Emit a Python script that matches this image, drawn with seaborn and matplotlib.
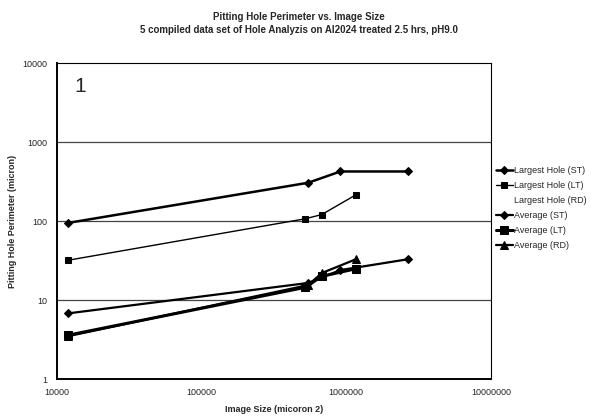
import matplotlib
matplotlib.use('Agg')
import matplotlib.pyplot as plt
import seaborn as sns
import pandas as pd

sns.set_style('white')
plt.rcParams['font.family'] = ['Liberation Sans', 'DejaVu Sans']

# data
lh_st_x = [12000, 546000, 910000, 2690000]
lh_st_y = [95, 306, 425, 425]
lh_lt_x = [12000, 520000, 677000, 1170000]
lh_lt_y = [32, 107, 121, 216]
av_st_x = [12000, 546000, 910000, 2690000]
av_st_y = [6.8, 16.5, 24, 33]
av_lt_x = [12000, 520000, 677000, 1170000]
av_lt_y = [3.6, 14.5, 20, 25]
av_rd_x = [12000, 546000, 677000, 1170000]
av_rd_y = [3.5, 15.5, 22, 33]

fig = plt.figure(figsize=(5.98, 4.18), dpi=100)
ax = fig.add_axes([0.095, 0.093, 0.726, 0.756])

series = [
    ('Largest Hole (ST)', lh_st_x, lh_st_y, 'D', 1.8, 4.5),
    ('Largest Hole (LT)', lh_lt_x, lh_lt_y, 's', 1.0, 4.5),
    ('Average (ST)', av_st_x, av_st_y, 'D', 1.6, 4.5),
    ('Average (LT)', av_lt_x, av_lt_y, 's', 2.2, 5.5),
    ('Average (RD)', av_rd_x, av_rd_y, '^', 1.6, 5.5),
]
for name, xs, ys, mk, lw, ms in series:
    df = pd.DataFrame({'x': xs, 'y': ys})
    sns.lineplot(data=df, x='x', y='y', ax=ax, color='black', marker=mk,
                 markersize=ms, linewidth=lw, label=name, markeredgecolor='black')

# empty series kept for the legend
ax.plot([], [], color='none', label='Largest Hole (RD)')

ax.set_xscale('log')
ax.set_yscale('log')
ax.set_xlim(10000, 10000000)
ax.set_ylim(1, 10000)
ax.set_xticks([10000, 100000, 1000000, 10000000])
ax.set_xticklabels(['10000', '100000', '1000000', '10000000'])
ax.set_yticks([1, 10, 100, 1000, 10000])
ax.set_yticklabels(['1', '10', '100', '1000', '10000'])
ax.minorticks_off()
ax.tick_params(axis='both', labelsize=6.5, length=3, direction='out', width=0.8)
for s in ax.spines.values():
    s.set_color('black')
    s.set_linewidth(0.8)
ax.spines['left'].set_linewidth(1.4)
ax.spines['bottom'].set_linewidth(1.4)
for v in [10, 100, 1000]:
    ax.axhline(v, color='#444444', linewidth=0.9, zorder=0)

ax.set_xlabel('Image Size (micoron 2)', fontsize=6.5, fontweight='bold', labelpad=6)
ax.set_ylabel('Pitting Hole Perimeter (micron)', fontsize=6.5, fontweight='bold', labelpad=4)
fig.text(0.5, 0.952, 'Pitting Hole Perimeter vs. Image Size', ha='center',
         fontsize=7, fontweight='bold')
fig.text(0.5, 0.92, '5 compiled data set of Hole Analyzis on Al2024 treated 2.5 hrs, pH9.0',
         ha='center', fontsize=7, fontweight='bold')
ax.text(0.04, 0.955, '1', transform=ax.transAxes, fontsize=15, va='top')

handles, labels = ax.get_legend_handles_labels()
order = ['Largest Hole (ST)', 'Largest Hole (LT)', 'Largest Hole (RD)',
         'Average (ST)', 'Average (LT)', 'Average (RD)']
hmap = dict(zip(labels, handles))
ax.legend([hmap[k] for k in order], order, loc='upper left',
          bbox_to_anchor=(1.0, 0.69), frameon=False, fontsize=6.5,
          handlelength=1.8, handletextpad=0.2, labelspacing=0.65, borderaxespad=0.2)

fig.savefig('out.png', dpi=100)
